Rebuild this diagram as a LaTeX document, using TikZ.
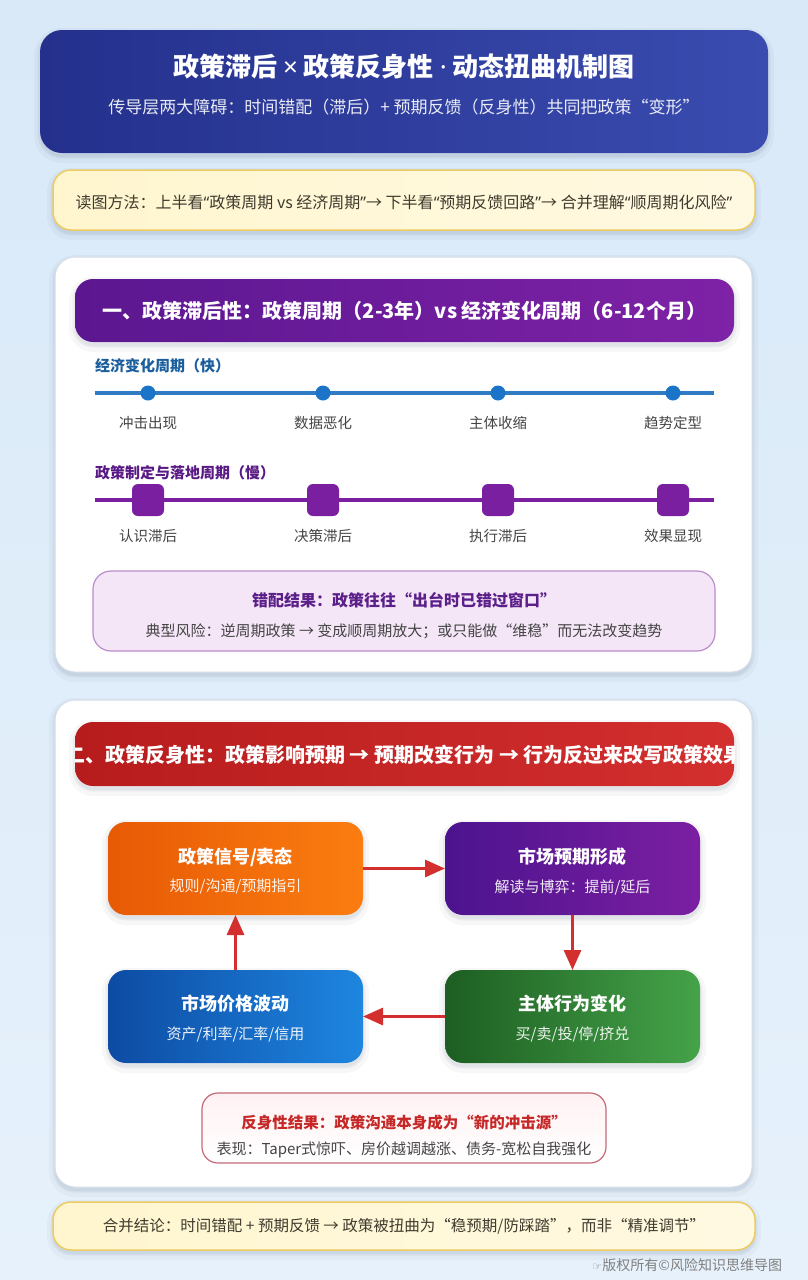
\documentclass[tikz,border=0pt]{standalone}
\usepackage{fontspec}
\setmainfont{Noto Sans CJK SC}
\newfontfamily\symfont{DejaVu Sans}
\newfontfamily\latinq{Noto Sans}
\usetikzlibrary{arrows.meta}
\definecolor{bgtop}{HTML}{D9E9F8}
\definecolor{bgbot}{HTML}{E6F1FB}
\definecolor{hdA}{HTML}{24308C}
\definecolor{hdB}{HTML}{3A4CB0}
\definecolor{ylA}{HTML}{FFF6CF}
\definecolor{ylB}{HTML}{FFF9E2}
\definecolor{ylBorder}{HTML}{ECCB62}
\definecolor{ylText}{HTML}{3F3B2E}
\definecolor{panelBorder}{HTML}{D5DCE5}
\definecolor{purA}{HTML}{5B1790}
\definecolor{purB}{HTML}{7E22A6}
\definecolor{redA}{HTML}{B71C1C}
\definecolor{redB}{HTML}{D32F2F}
\definecolor{ecoBlue}{HTML}{1B5E9E}
\definecolor{lineBlue}{HTML}{2F7CC5}
\definecolor{dotBlue}{HTML}{1C74C9}
\definecolor{polPurple}{HTML}{5A1A86}
\definecolor{linePurple}{HTML}{7A1FA0}
\definecolor{txtGray}{HTML}{444444}
\definecolor{res1Fill}{HTML}{F4E6F7}
\definecolor{res1Border}{HTML}{B98CCB}
\definecolor{res1Text}{HTML}{5B1F8A}
\definecolor{res2Fill}{HTML}{FFF1F3}
\definecolor{res2Border}{HTML}{C46A78}
\definecolor{res2Text}{HTML}{C62828}
\definecolor{orA}{HTML}{E75A05}
\definecolor{orB}{HTML}{FB7D10}
\definecolor{pA}{HTML}{4C138E}
\definecolor{pB}{HTML}{7B1FA2}
\definecolor{bA}{HTML}{0D4BA3}
\definecolor{bB}{HTML}{1E86E0}
\definecolor{gA}{HTML}{1D5E22}
\definecolor{gB}{HTML}{45A349}
\definecolor{arrowRed}{HTML}{D32F2F}
\definecolor{shadowC}{HTML}{203050}
\newcommand\fsz[1]{\fontsize{#1}{#1}\selectfont}
\newcommand\qL{{\latinq “}}
\newcommand\qR{{\latinq ”}}
\begin{document}
\begin{tikzpicture}[x=1pt,y=-1pt,
  every node/.style={inner sep=0pt, outer sep=0pt},
  softshadow/.style={
    preaction={draw=shadowC, draw opacity=0.035, line width=12pt, fill=shadowC, fill opacity=0.05, transform canvas={yshift=-4pt}},
    preaction={draw=shadowC, draw opacity=0.05, line width=5pt, transform canvas={yshift=-3pt}}},
  panel/.style={draw=panelBorder, line width=1pt, fill=white, rounded corners=20pt, softshadow},
  ybox/.style={draw=ylBorder, line width=1.5pt, left color=ylA, right color=ylB, rounded corners=18pt, softshadow},
  secheader/.style={rounded corners=18pt, softshadow},
  flowbox/.style={rounded corners=18pt, softshadow},
  flowtitle/.style={text=white, font=\bfseries\fsz{18}},
  flowsub/.style={text=white, opacity=0.92, font=\fsz{15}},
  tllabel/.style={text=txtGray, font=\fsz{14.5}},
  flowarrow/.style={draw=arrowRed, line width=3pt, -{Triangle[length=20pt,width=17pt]}},
]
\useasboundingbox (0,0) rectangle (808,1280);
\fill[top color=bgtop, bottom color=bgbot] (0,0) rectangle (808,1280);

% ---------- header ----------
\node[rounded corners=22pt, left color=hdA, right color=hdB, softshadow,
      minimum width=728pt, minimum height=123pt] (header) at (404,91.5) {};
\node[text=white, font=\bfseries\fsz{26}] (title) at (404,67) {政策滞后 {\latinq\bfseries ×} 政策反身性 {\latinq\bfseries ·} 动态扭曲机制图};
\node[text=white, opacity=0.9, font=\fsz{17}] (subtitle) at (404,107) {传导层两大障碍：时间错配（滞后）+ 预期反馈（反身性）共同把政策“变形”};

% ---------- reading guide ----------
\node[ybox, minimum width=702pt, minimum height=60pt] (guide) at (404,200) {};
\node[text=ylText, font=\fsz{16}] (guidetext) at (404,202) {读图方法：上半看\qL 政策周期 vs 经济周期\qR→ 下半看\qL 预期反馈回路\qR→ 合并理解\qL 顺周期化风险\qR};

% ---------- section 1 ----------
\node[panel, minimum width=697pt, minimum height=415pt] (panel1) at (403.5,464.5) {};
\node[secheader, left color=purA, right color=purB, minimum width=659pt, minimum height=63pt] (sec1) at (404.5,310.5) {};
\node[text=white, font=\bfseries\fsz{20}] (sec1text) at (404.5,311) {一、政策滞后性：政策周期（2-3年）vs 经济变化周期（6-12个月）};

\node[anchor=west, text=ecoBlue, font=\bfseries\fsz{15}] (ecolabel) at (95,366) {经济变化周期（快）};
\coordinate (eL) at (95,393);
\coordinate (eR) at (714,393);
\draw[lineBlue, line width=4pt] (eL) -- (eR);
\foreach \i/\x/\t in {1/148/冲击出现, 2/323/数据恶化, 3/498/主体收缩, 4/673/趋势定型}{
  \node[circle, fill=dotBlue, minimum size=15pt] (d\i) at (\x,393) {};
  \node[tllabel] (dl\i) at (\x,423) {\t};
}

\node[anchor=west, text=polPurple, font=\bfseries\fsz{15}] (pollabel) at (95,473) {政策制定与落地周期（慢）};
\coordinate (pL) at (95,500);
\coordinate (pR) at (714,500);
\draw[linePurple, line width=4pt] (pL) -- (pR);
\foreach \i/\x/\t in {1/148/认识滞后, 2/323/决策滞后, 3/498/执行滞后, 4/673/效果显现}{
  \node[rounded corners=6pt, fill=linePurple, minimum size=32pt] (s\i) at (\x,500) {};
  \node[tllabel] (sl\i) at (\x,536) {\t};
}

\node[draw=res1Border, line width=1.2pt, fill=res1Fill, rounded corners=18pt,
      minimum width=622pt, minimum height=80pt] (res1) at (404,611) {};
\node[text=res1Text, font=\bfseries\fsz{16}] (res1a) at (404,600) {错配结果：政策往往“出台时已错过窗口”};
\node[text=txtGray, font=\fsz{15}] (res1b) at (404,631) {典型风险：逆周期政策 → 变成顺周期放大；或只能做“维稳”而无法改变趋势};

% ---------- section 2 ----------
\node[panel, minimum width=697pt, minimum height=487pt] (panel2) at (403.5,943.5) {};
\node[secheader, left color=redA, right color=redB, minimum width=659pt, minimum height=64pt] (sec2) at (404.5,754) {};
\begin{scope}
  \clip[rounded corners=18pt] (75,722) rectangle (734,786);
  \node[text=white, font=\bfseries\fsz{20}] (sec2text) at (404.5,755) {二、政策反身性：政策影响预期 → 预期改变行为 → 行为反过来改写政策效果};
\end{scope}

\node[flowbox, left color=orA, right color=orB, minimum width=255pt, minimum height=93pt] (signal) at (235.5,868.5) {};
\node[flowtitle] (signalT) at (235.5,857) {政策信号/表态};
\node[flowsub] (signalS) at (235.5,887) {规则/沟通/预期指引};

\node[flowbox, left color=pA, right color=pB, minimum width=255pt, minimum height=93pt] (expect) at (572.5,868.5) {};
\node[flowtitle] (expectT) at (572.5,857) {市场预期形成};
\node[flowsub] (expectS) at (572.5,887) {解读与博弈：提前/延后};

\node[flowbox, left color=bA, right color=bB, minimum width=255pt, minimum height=93pt] (price) at (235.5,1016.5) {};
\node[flowtitle] (priceT) at (235.5,1004) {市场价格波动};
\node[flowsub] (priceS) at (235.5,1034) {资产/利率/汇率/信用};

\node[flowbox, left color=gA, right color=gB, minimum width=255pt, minimum height=93pt] (behav) at (572.5,1016.5) {};
\node[flowtitle] (behavT) at (572.5,1004) {主体行为变化};
\node[flowsub] (behavS) at (572.5,1034) {买/卖/投/停/挤兑};

\draw[flowarrow] (signal) -- (expect);
\draw[flowarrow] (expect) -- (behav);
\draw[flowarrow] (behav) -- (price);
\draw[flowarrow] (price) -- (signal);

\node[draw=res2Border, line width=1.2pt, top color=res2Fill, bottom color=white, rounded corners=16pt,
      minimum width=404pt, minimum height=70pt] (res2) at (404,1128) {};
\node[text=res2Text, font=\bfseries\fsz{15.5}] (res2a) at (404,1123) {反身性结果：政策沟通本身成为“新的冲击源”};
\node[text=txtGray, font=\fsz{15}] (res2b) at (404,1150) {表现：Taper式惊吓、房价越调越涨、债务-宽松自我强化};

% ---------- conclusion ----------
\node[ybox, minimum width=702pt, minimum height=48pt] (concl) at (404,1226) {};
\node[text=ylText, font=\fsz{15.5}] (concltext) at (404,1226) {合并结论：时间错配 + 预期反馈 → 政策被扭曲为“稳预期/防踩踏”，而非“精准调节”};

\node[anchor=east, text=gray, font=\fsz{14}] (wm) at (782,1265) {{\symfont\fsz{11}☞}版权所有©风险知识思维导图};
\end{tikzpicture}
\end{document}
